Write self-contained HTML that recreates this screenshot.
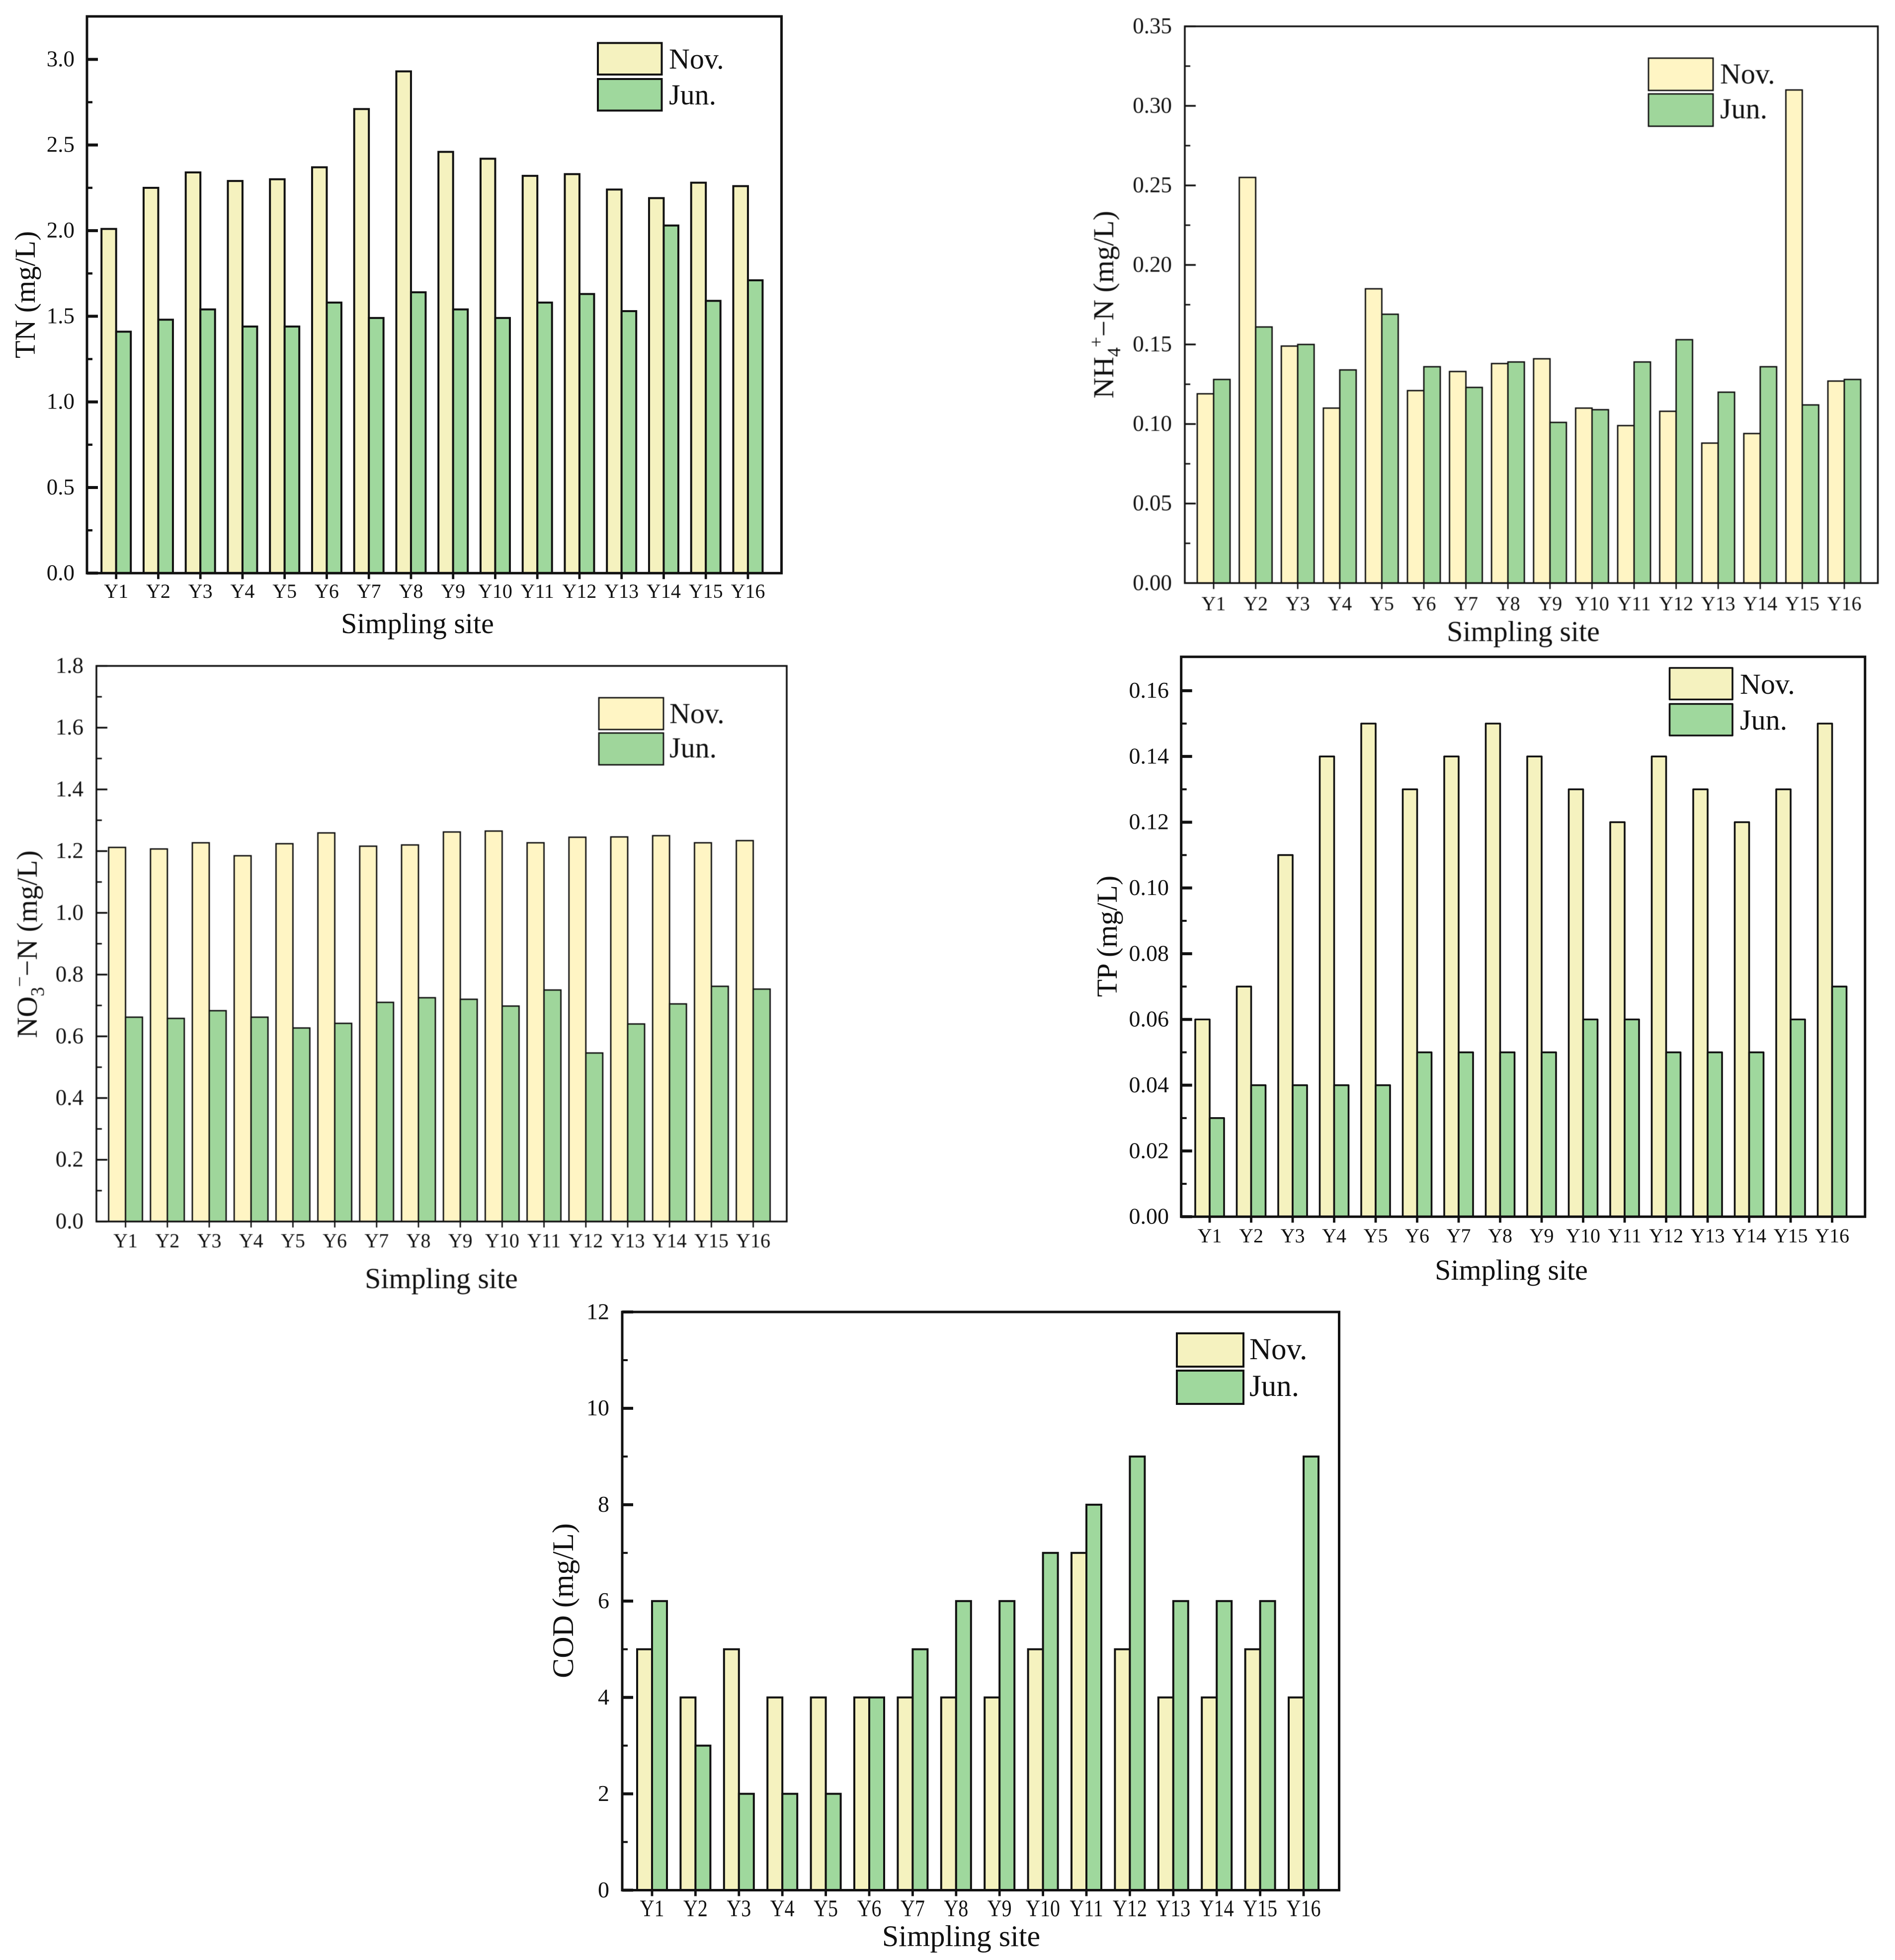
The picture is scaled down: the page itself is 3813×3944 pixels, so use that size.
<!DOCTYPE html>
<html lang="en">
<head>
<meta charset="utf-8">
<title>Water quality by sampling site</title>
<style>
html,body{margin:0;padding:0;background:#fff;}
svg{display:block;}
text{font-family:"Liberation Serif","Times New Roman",serif;fill:#111;}
</style>
</head>
<body>
<svg id="figure" xmlns="http://www.w3.org/2000/svg" width="3813" height="3944" viewBox="0 0 3813 3944"></svg>
<script>
const sites = ['Y1','Y2','Y3','Y4','Y5','Y6','Y7','Y8','Y9','Y10','Y11','Y12','Y13','Y14','Y15','Y16'];

const tnNov = [2.01,2.25,2.34,2.29,2.30,2.37,2.71,2.93,2.46,2.42,2.32,2.33,2.24,2.19,2.28,2.26];
const tnJun = [1.41,1.48,1.54,1.44,1.44,1.58,1.49,1.64,1.54,1.49,1.58,1.63,1.53,2.03,1.59,1.71];
const tnTicks = ['0.0','0.5','1.0','1.5','2.0','2.5','3.0'];

const nh4Nov = [0.119,0.255,0.149,0.110,0.185,0.121,0.133,0.138,0.141,0.110,0.099,0.108,0.088,0.094,0.310,0.127];
const nh4Jun = [0.128,0.161,0.150,0.134,0.169,0.136,0.123,0.139,0.101,0.109,0.139,0.153,0.120,0.136,0.112,0.128];
const nh4Ticks = ['0.00','0.05','0.10','0.15','0.20','0.25','0.30','0.35'];

const no3Nov = [1.212,1.207,1.227,1.185,1.224,1.259,1.216,1.22,1.262,1.265,1.227,1.245,1.246,1.25,1.227,1.234];
const no3Jun = [0.662,0.658,0.683,0.662,0.627,0.642,0.71,0.725,0.72,0.698,0.75,0.546,0.64,0.705,0.762,0.753];
const no3Ticks = ['0.0','0.2','0.4','0.6','0.8','1.0','1.2','1.4','1.6','1.8'];

const tpNov = [0.06,0.07,0.11,0.14,0.15,0.13,0.14,0.15,0.14,0.13,0.12,0.14,0.13,0.12,0.13,0.15];
const tpJun = [0.03,0.04,0.04,0.04,0.04,0.05,0.05,0.05,0.05,0.06,0.06,0.05,0.05,0.05,0.06,0.07];
const tpTicks = ['0.00','0.02','0.04','0.06','0.08','0.10','0.12','0.14','0.16'];

const codNov = [5,4,5,4,4,4,4,4,4,5,7,5,4,4,5,4];
const codJun = [6,3,2,2,2,4,5,6,6,7,8,9,6,6,6,9];
const codTicks = ['0','2','4','6','8','10','12'];

const SVGNS = 'http://www.w3.org/2000/svg';
const root = document.getElementById('figure');

function make(tag, parent, attrs) {
  const el = document.createElementNS(SVGNS, tag);
  for (const k in attrs) el.setAttribute(k, attrs[k]);
  parent.appendChild(el);
  return el;
}

const charts = [
  { key:'tn', nov:tnNov, jun:tnJun, ticks:tnTicks, yTop:3.251,
    box:{l:175,r:1572.5,t:33,b:1153.3}, x0:233.7, dx:84.75, barW:29.5, lw:5, barLw:4, tickW:6, minorW:4.5, join:'miter',
    colors:['#F5F2BF','#9FD89D'], tickFont:45, xFont:40, xScaleY:1, tickRight:150, xBase:1203, xTick:12,
    xTitle:{x:840,y:1274}, yTitle:{x:70,y:593}, titleFont:58, titleParts:[['TN (mg/L)']],
    legend:{x:1203,w:128.5,h:63.5,y1:86.5,y2:159,tx:1346,ty1:138,ty2:210,font:58}, blur:0 },
  { key:'nh4', nov:nh4Nov, jun:nh4Jun, ticks:nh4Ticks, yTop:0.35,
    box:{l:2384,r:3778.5,t:53,b:1173.3}, x0:2442, dx:84.6, barW:33, lw:3.5, barLw:2.8, tickW:3.5, minorW:3, join:'miter',
    colors:['#FFF5C4','#9FD69B'], tickFont:45, xFont:40, xScaleY:1, tickRight:2358, xBase:1228, xTick:12,
    xTitle:{x:3065,y:1290}, yTitle:{x:2240,y:613}, titleFont:58, titleParts:[['NH'],['4','sub'],['+','sup'],['\u2212N (mg/L)','base']],
    legend:{x:3317,w:130,h:65,y1:117,y2:189,tx:3461,ty1:168,ty2:238,font:58}, blur:0.6 },
  { key:'no3', nov:no3Nov, jun:no3Jun, ticks:no3Ticks, yTop:1.8,
    box:{l:194,r:1583,t:1340,b:2458}, x0:252.6, dx:84.2, barW:34, lw:3.5, barLw:2.8, tickW:3.5, minorW:3, join:'miter',
    colors:['#FFF5C4','#9FD69B'], tickFont:45, xFont:40, xScaleY:1, tickRight:168, xBase:2510, xTick:12,
    xTitle:{x:888,y:2592}, yTitle:{x:74,y:1900}, titleFont:58, titleParts:[['NO'],['3','sub'],['\u2212','sup'],['\u2212N (mg/L)','base']],
    legend:{x:1205,w:130,h:64,y1:1404,y2:1475,tx:1347,ty1:1455,ty2:1524,font:58}, blur:0.6 },
  { key:'tp', nov:tpNov, jun:tpJun, ticks:tpTicks, yTop:0.1703,
    box:{l:2376.7,r:3752.7,t:1321.7,b:2448.3}, x0:2434, dx:83.5, barW:29, lw:5, barLw:3.6, tickW:6, minorW:4, join:'round',
    colors:['#F5F2BF','#9FD89D'], tickFont:46, xFont:40, xScaleY:1, tickRight:2352, xBase:2500, xTick:12,
    xTitle:{x:3041,y:2575}, yTitle:{x:2247,y:1884}, titleFont:58, titleParts:[['TP (mg/L)']],
    legend:{x:3359.5,w:126.5,h:63.5,y1:1344,y2:1416.5,tx:3501,ty1:1396,ty2:1468,font:58}, blur:0 },
  { key:'cod', nov:codNov, jun:codJun, ticks:codTicks, yTop:12,
    box:{l:1252,r:2694.5,t:2640,b:3803.5}, x0:1312, dx:87.4, barW:30, lw:5, barLw:4, tickW:6, minorW:4, join:'miter',
    colors:['#F5F2BF','#9FD89D'], tickFont:46, xFont:40, xScaleY:1.18, tickRight:1226, xBase:3856, xTick:12,
    xTitle:{x:1934,y:3916}, yTitle:{x:1153,y:3221}, titleFont:60, titleParts:[['COD (mg/L)']],
    legend:{x:2368,w:134,h:67,y1:2683,y2:2758,tx:2514,ty1:2735,ty2:2809,font:61}, blur:0 }
];

function yScale(cfg, v) {
  return cfg.box.b - (v / cfg.yTop) * (cfg.box.b - cfg.box.t);
}
function xScale(cfg, i) {
  return cfg.x0 + cfg.dx * i;
}

charts.forEach(function (cfg) {
  const g = make('g', root, cfg.blur ? {style:'filter:blur(' + cfg.blur + 'px)'} : {});
  
  

  [cfg.nov, cfg.jun].forEach(function (series, s) {
    series.forEach(function (v, i) {
      const cx = xScale(cfg, i);
      const y = yScale(cfg, v);
      const bar = make('rect', g, {
        x: s === 0 ? cx - cfg.barW : cx, y: y, width: cfg.barW, height: cfg.box.b - y,
        fill: cfg.colors[s], stroke: '#111', 'stroke-width': cfg.barLw, 'stroke-linejoin': cfg.join
      });
      
      
    });
  });

  const frame = make('rect', g, {
    x: cfg.box.l, y: cfg.box.t, width: cfg.box.r - cfg.box.l, height: cfg.box.b - cfg.box.t,
    fill: 'none', stroke: '#111', 'stroke-width': cfg.lw
  });
  
  

  cfg.ticks.forEach(function (label, i) {
    const v = parseFloat(label);
    const y = yScale(cfg, v);
    const tick = make('line', g, {x1: cfg.box.l, x2: cfg.box.l + 22, y1: y, y2: y, stroke: '#111', 'stroke-width': cfg.tickW});
    
    
    const txt = make('text', g, {x: cfg.tickRight, y: y + cfg.tickFont * 0.31, 'text-anchor': 'end', 'font-size': cfg.tickFont});
    txt.textContent = label;
    
    
    if (i < cfg.ticks.length - 1) {
      const mid = (v + parseFloat(cfg.ticks[i + 1])) / 2;
      const ym = yScale(cfg, mid);
      const minor = make('line', g, {x1: cfg.box.l, x2: cfg.box.l + 11, y1: ym, y2: ym, stroke: '#111', 'stroke-width': cfg.minorW});
      
      
    }
  });

  sites.forEach(function (name, i) {
    const x = xScale(cfg, i);
    const tick = make('line', g, {x1: x, x2: x, y1: cfg.box.b, y2: cfg.box.b + cfg.xTick, stroke: '#111', 'stroke-width': cfg.tickW * 0.8});
    
    
    const txt = make('text', g, {
      transform: 'translate(' + x + ' ' + cfg.xBase + ') scale(1 ' + cfg.xScaleY + ')',
      'text-anchor': 'middle', 'font-size': cfg.xFont
    });
    txt.textContent = name;
    
    
  });

  const xTitle = make('text', g, {x: cfg.xTitle.x, y: cfg.xTitle.y, 'text-anchor': 'middle', 'font-size': cfg.titleFont});
  xTitle.textContent = 'Simpling site';
  
  

  const yTitle = make('text', g, {
    transform: 'translate(' + cfg.yTitle.x + ' ' + cfg.yTitle.y + ') rotate(-90)',
    'text-anchor': 'middle', 'font-size': cfg.titleFont
  });
  
  
  let shift = 0;
  cfg.titleParts.forEach(function (part) {
    const span = make('tspan', yTitle, {});
    span.textContent = part[0];
    if (part[1] === 'sub') {
      span.setAttribute('font-size', 38);
      span.setAttribute('dy', 14);
      shift = 14;
    } else if (part[1] === 'sup') {
      span.setAttribute('font-size', 38);
      span.setAttribute('dy', -36);
      shift = -22;
    } else if (part[1] === 'base') {
      span.setAttribute('dy', -shift);
      shift = 0;
    }
  });

  ['Nov.', 'Jun.'].forEach(function (label, s) {
    const swatchY = s === 0 ? cfg.legend.y1 : cfg.legend.y2;
    const textY = s === 0 ? cfg.legend.ty1 : cfg.legend.ty2;
    const swatch = make('rect', g, {
      x: cfg.legend.x, y: swatchY, width: cfg.legend.w, height: cfg.legend.h,
      fill: cfg.colors[s], stroke: '#111', 'stroke-width': cfg.barLw, 'stroke-linejoin': cfg.join
    });
    
    
    const txt = make('text', g, {x: cfg.legend.tx, y: textY, 'font-size': cfg.legend.font});
    txt.textContent = label;
    
    
  });
});
</script>
</body>
</html>
